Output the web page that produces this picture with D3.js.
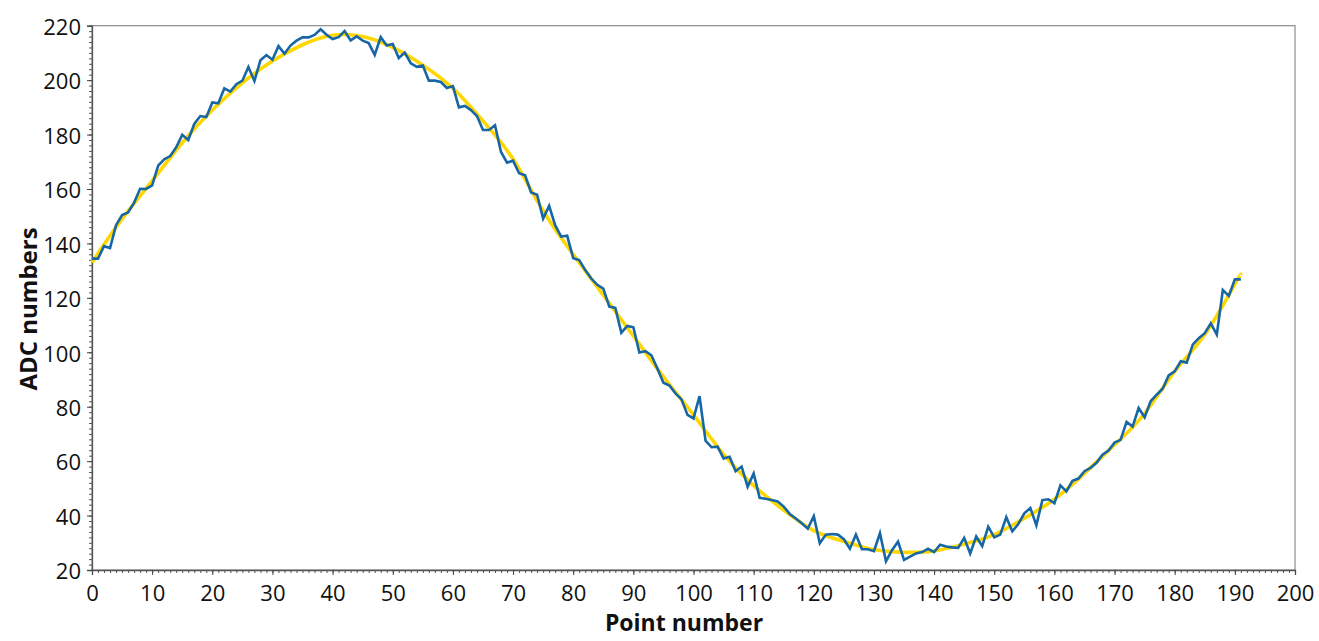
<!DOCTYPE html>
<html><head><meta charset="utf-8">
<script src="https://cdn.jsdelivr.net/npm/d3@7"></script>
<style>
body{margin:0;background:#fff;}
svg text{font-family:"Open Sans","Noto Sans",sans-serif;}
</style>
</head><body>
<svg id="chart" width="1319" height="641"></svg>
<script>
// Measured ADC samples (point number = array index)
const adcValues = [134.4,134.4,139.0,138.3,146.7,150.4,151.4,155.0,160.1,160.0,
161.3,168.6,170.9,172.1,175.3,179.9,178.0,183.9,186.8,186.4,
191.8,191.5,197.0,195.8,198.5,199.8,204.8,199.7,207.3,209.2,
207.5,212.5,209.7,212.7,214.5,215.7,215.7,216.6,218.7,216.7,
215.1,215.8,218.0,214.6,216.1,214.5,213.6,209.3,215.8,212.7,
213.3,208.1,210.1,206.2,204.9,205.4,199.8,199.8,199.3,197.1,
197.8,190.0,190.5,189.0,186.8,181.7,181.7,183.4,173.6,169.7,
170.4,165.8,165.0,158.7,157.9,149.1,153.8,146.7,142.5,142.8,
134.6,133.9,130.2,127.1,124.8,123.4,116.8,116.3,107.2,109.7,
109.2,99.9,100.4,98.9,94.0,88.8,87.8,84.9,82.7,77.0,
75.7,83.9,67.5,65.1,65.3,61.0,61.6,56.3,58.0,50.6,
55.5,46.5,46.2,45.7,45.2,43.3,40.6,38.9,37.2,35.2,
39.8,29.8,33.0,33.2,33.0,31.3,27.8,33.0,27.6,27.6,
26.9,33.5,23.2,27.3,30.4,23.7,24.9,26.1,26.6,27.8,
26.6,29.3,28.6,28.3,28.1,31.8,26.1,32.3,28.8,35.9,
32.0,33.0,39.4,34.2,36.9,40.8,42.8,36.4,45.7,46.0,
44.5,51.1,48.9,52.8,53.6,56.3,57.5,59.4,62.4,63.9,
66.8,67.8,74.4,72.7,79.5,76.1,82.0,84.4,86.6,91.5,
93.0,96.7,96.2,102.8,105.2,107.0,110.6,106.5,122.9,120.7,
126.8,126.8];

// Smooth fitted curve (read at these point numbers)
const fitPoints = [0,5,10,15,20,25,30,35,40,45,50,55,60,65,70,75,80,85,90,95,
100,105,110,115,120,125,130,135,140,145,150,155,160,165,170,175,180,185,190,191];
const fitValues = [133,149,163,177,189,199,207,213,216.5,216,212,205.5,197,185,171,152,136,121,106,91,
77,62.5,51,42,34.5,30.5,27.5,26.5,27,29.5,33,39,46,55.5,66,77.5,93,106.5,125,128.5];

const xTicks = [0,10,20,30,40,50,60,70,80,90,100,110,120,130,140,150,160,170,180,190,200];
const yTicks = [20,40,60,80,100,120,140,160,180,200,220];

const svg = d3.select("#chart");
const L = 92, R = 1295, T = 25.7, B = 570;
const x = d3.scaleLinear().domain([0,200]).range([L,R]);
const y = d3.scaleLinear().domain([20,220]).range([B,T]);

// frame (top/right)
svg.append("rect").attr("x",L).attr("y",T).attr("width",R-L).attr("height",B-T)
  .attr("fill","none").attr("stroke","#8c8c8c").attr("stroke-width",1.2);

// minor ticks
const yMinor = svg.append("g").attr("transform",`translate(${L},0)`)
  .call(d3.axisLeft(y).tickValues(d3.range(20,221,2)).tickSize(3).tickFormat(""));
const xMinor = svg.append("g").attr("transform",`translate(0,${B})`)
  .call(d3.axisBottom(x).tickValues(d3.range(0,201,1)).tickSize(3).tickFormat(""));
[yMinor,xMinor].forEach(g=>{g.select(".domain").remove();g.selectAll("line").attr("stroke","#555");});

// major axes
const yAxis = svg.append("g").attr("transform",`translate(${L},0)`)
  .call(d3.axisLeft(y).tickValues(yTicks).tickSize(5).tickPadding(6));
const xAxis = svg.append("g").attr("transform",`translate(0,${B})`)
  .call(d3.axisBottom(x).tickValues(xTicks).tickSize(5).tickPadding(9));
[yAxis,xAxis].forEach(g=>{
  g.select(".domain").attr("stroke","#555").attr("stroke-width",1.3);
  g.selectAll(".tick line").attr("stroke","#444");
  g.selectAll("text").attr("fill","#111").style("font-size","22px");
});
yAxis.selectAll("text").attr("dy","0.4em");
xAxis.selectAll("text").attr("dy","0.75em");

// fitted curve
svg.append("path").datum(fitPoints.map((p,i)=>[p,fitValues[i]]))
  .attr("fill","none").attr("stroke","#FFD700").attr("stroke-width",3.6)
  .attr("d",d3.line().x(d=>x(d[0])).y(d=>y(d[1])).curve(d3.curveNatural));

// measured line
svg.append("path").datum(adcValues)
  .attr("fill","none").attr("stroke","#1766a6").attr("stroke-width",2.6)
  .attr("stroke-linejoin","miter")
  .attr("d",d3.line().x((d,i)=>x(i)).y(d=>y(d)));

// axis titles
svg.append("text").attr("x",684).attr("y",631).attr("text-anchor","middle")
  .style("font-size","23px").style("font-weight","bold").attr("fill","#111").text("Point number");
svg.append("text").attr("transform","translate(37,309) rotate(-90)").attr("text-anchor","middle")
  .style("font-size","24px").style("font-weight","bold").attr("fill","#111").text("ADC numbers");
</script>
</body></html>
